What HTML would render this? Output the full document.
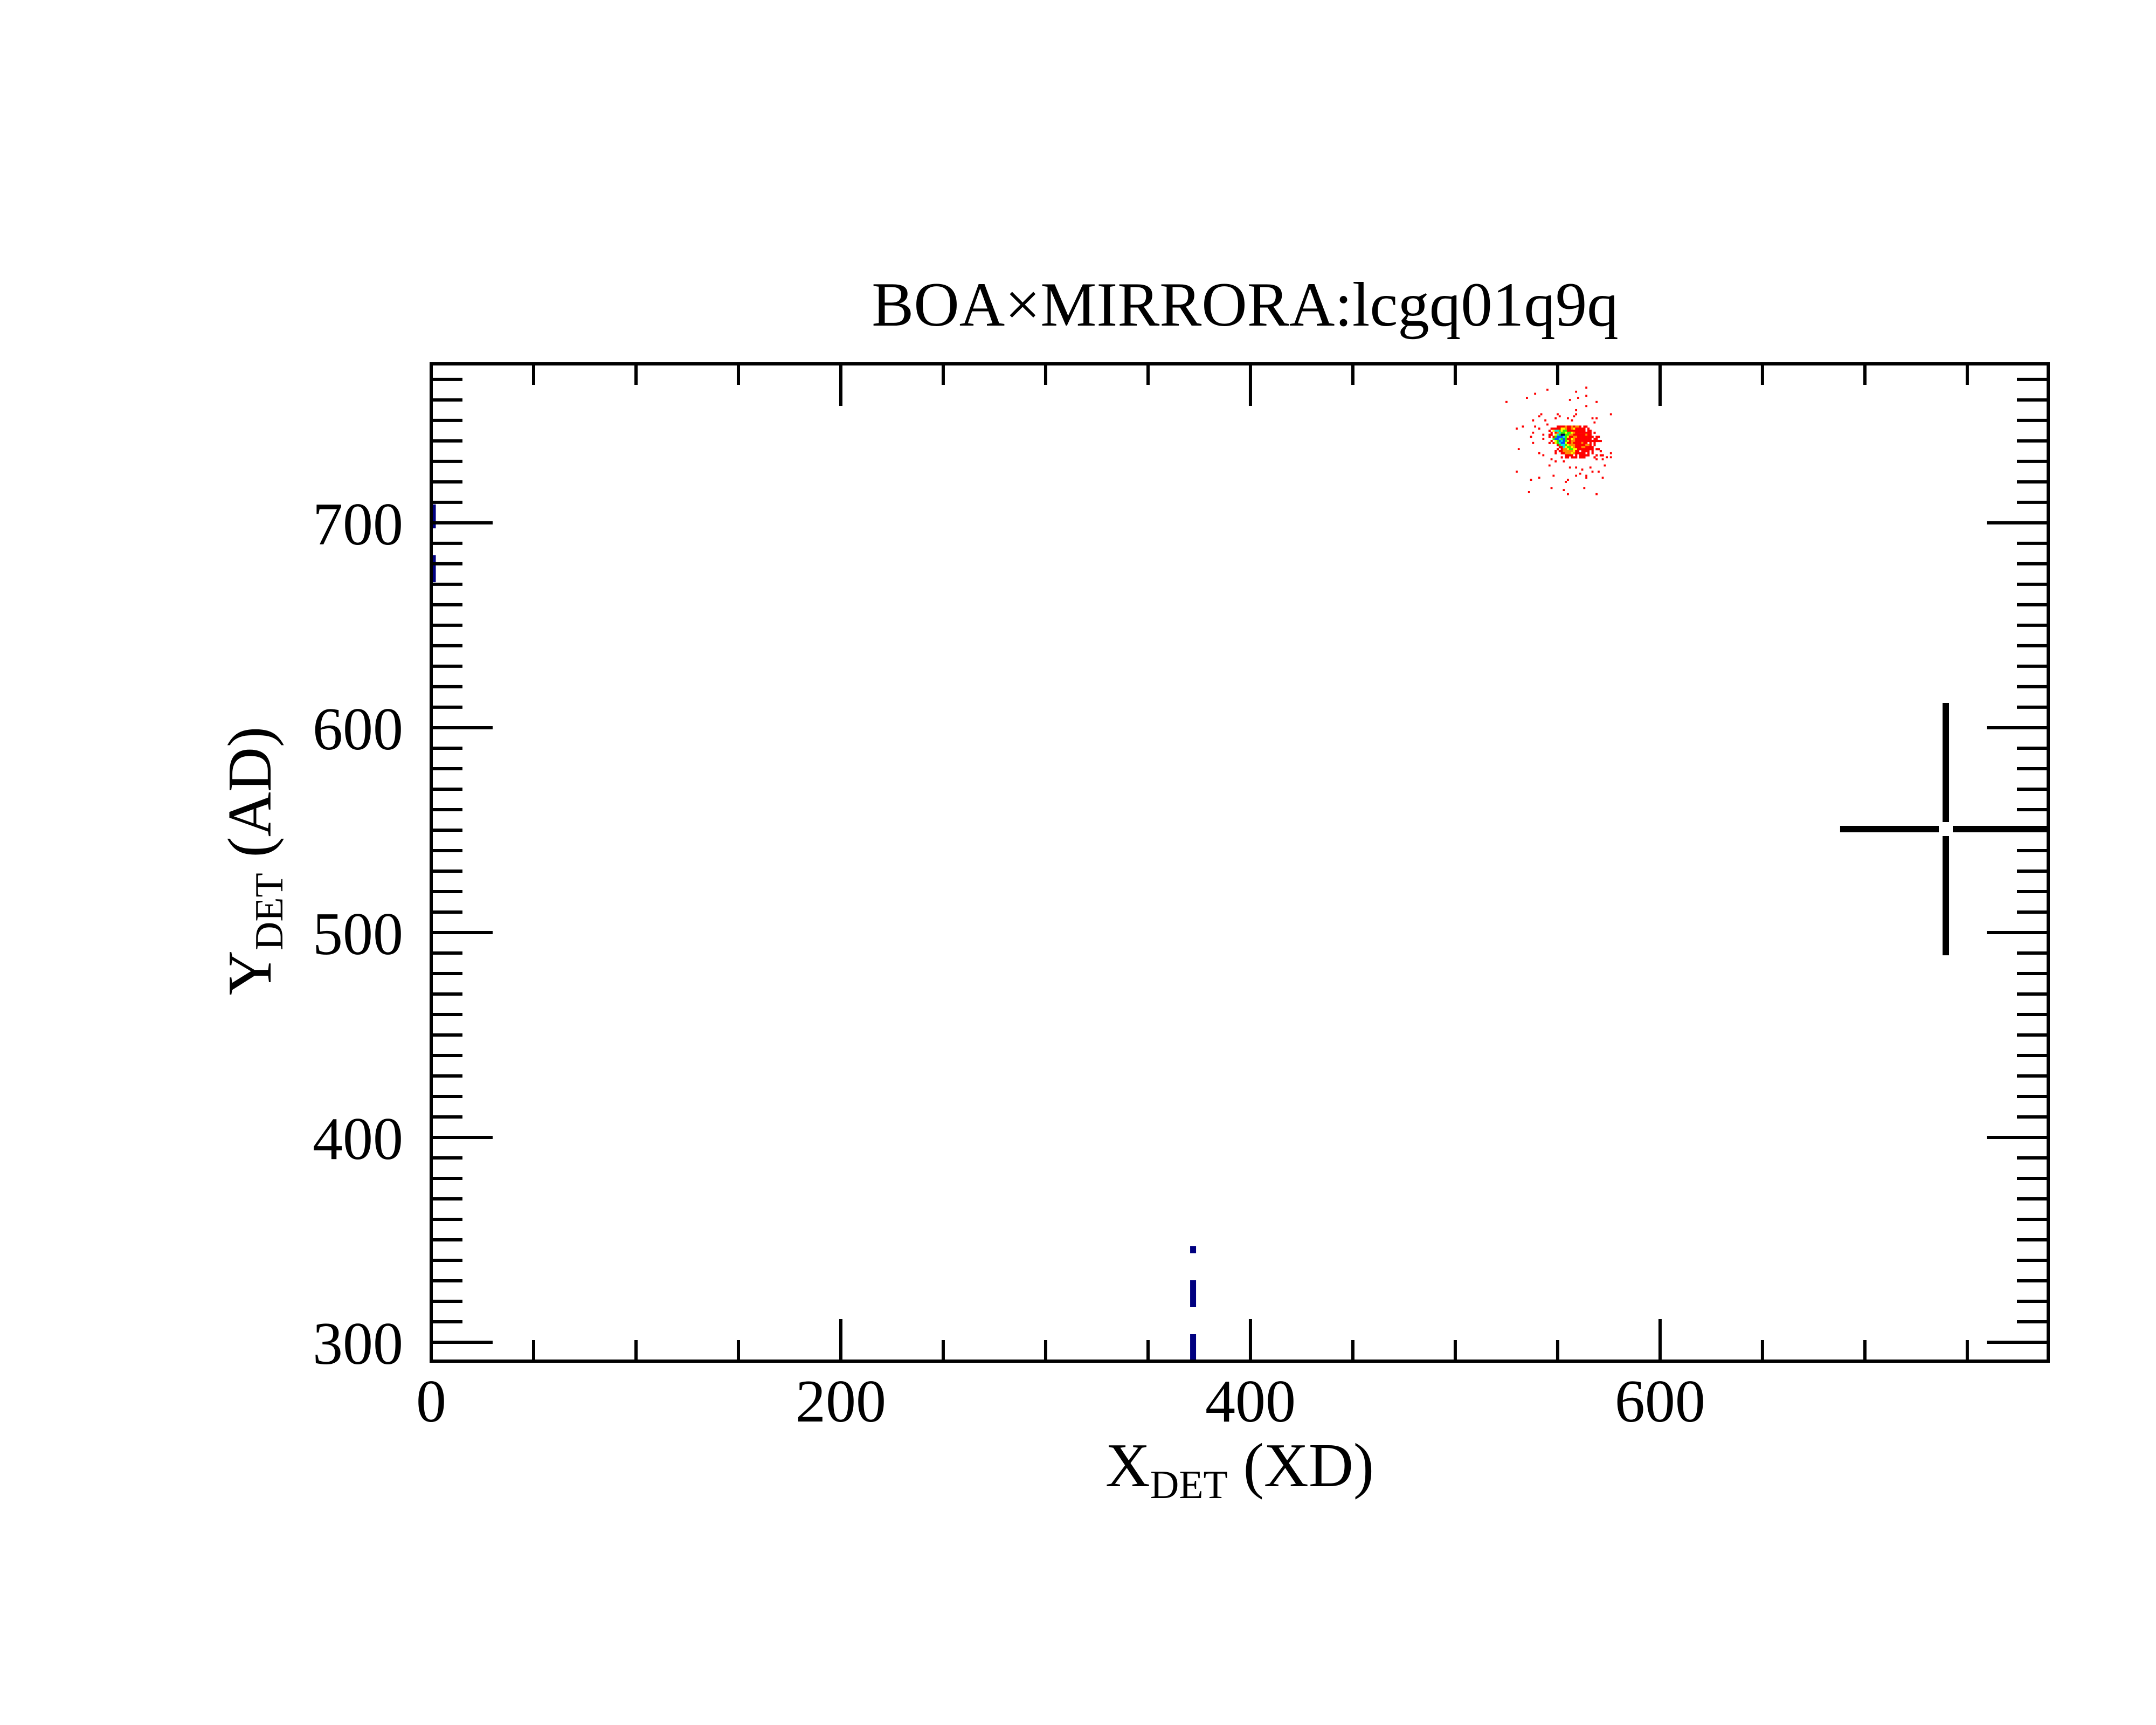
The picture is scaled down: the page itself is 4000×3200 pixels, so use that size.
<!DOCTYPE html>
<html>
<head>
<meta charset="utf-8">
<style>
html,body{margin:0;padding:0;background:#fff;}
svg{display:block;}
text{font-family:"Liberation Serif","DejaVu Serif",serif;fill:#000;}
</style>
</head>
<body>
<svg id="chart" xmlns="http://www.w3.org/2000/svg" width="4000" height="3200" viewBox="0 0 4000 3200">
  <rect x="0" y="0" width="4000" height="3200" fill="#fff"/>
  <defs><clipPath id="plotclip"><rect x="800" y="675" width="3000" height="1850"/></clipPath></defs>
  <g id="marks" clip-path="url(#plotclip)"></g>
  <g id="axes"></g>
  <text x="2310" y="604" font-size="117" text-anchor="middle">BOA×MIRRORA:lcgq01q9q</text>
  <text x="2300" y="2757" font-size="115" text-anchor="middle">X<tspan font-size="74" dy="22">DET</tspan><tspan dy="-22"> (XD)</tspan></text>
  <text transform="translate(502,1597) rotate(-90)" font-size="115" text-anchor="middle">Y<tspan font-size="74" dy="22">DET</tspan><tspan dy="-22"> (AD)</tspan></text>
</svg>
<script>
// ---- data ----
const xDomain = [0, 789.5];
const yDomain = [290.8, 777.6];
const xMajorTicks = [0, 200, 400, 600];
const xTickLabels = ["0", "200", "400", "600"];
const yMajorTicks = [300, 400, 500, 600, 700];
const yTickLabels = ["300", "400", "500", "600", "700"];
const xMinorStep = 50;
const yMinorStep = 10;
// cross marker (source position): center and half-sizes in data units
const crossCenter = [739.5, 550.5];
const crossHalf = [51.6, 61.6];
// dashed navy lines: [x, yStart, yEnd]
const dashLineA = [372, 290.8, 347];
const dashLineB = [0.8, 671, 709];
// image cluster: center in data units
const clusterCenter = [551, 740];
// core rows: dy from 7 down to -8, dx starting at -8
const coreTopDy = 7;
const coreStartDx = -8;
const coreRows = [
  ".......rrrrorroroor.rr...........",
  "....rrrrryyorroyrrrrr.r..........",
  "...r.yccgyggrrrrrrrrr.rr.........",
  "....r.rocggyggyorrrrrrrr.r.......",
  "...rr.ycgkkggoorrrrrrorr.........",
  "...r.rgbbbcgyrroorrrrrrrr.rr.....",
  ".....gbbcgbgrryorrrrrrrr.rr......",
  "....r.ygbcbgyroorrrrrrrrrrrrr....",
  "...r.rygcbbyrrorrrrorr.r.r.......",
  ".......rgccgyooorrrrroor.r.......",
  "........rrcyggyorrroorrrr........",
  ".......r.rooyggyyrrrrrrrr.rr.....",
  "......r.rroooooyrr.rrrr.r...r....",
  "......r..rroooyorrrrr.r.r........",
  "...........rrrr.r.rrrrr...r.rr...",
  ".........r.rr.rrr.rrr....r......."
];
// sparse outlier events (dx, dy) in data units
const outDx = [13,-6,-12,8,-16,5,9,13,-26,18,13,8,-9,-1,8,25,-10,0,4,7,-13,-7,-2,6,16,18,-18,-12,-6,17,-21,-10,-13,-8,-14,-8,-13,-20,-10,-8,-4,-2,2,25,23,25,22,21,18,-5,5,8,15,11,-21,10,13,16,19,-3,8,-10,13,21,-14,4,3,-4,12,2,-15,4,18];
const outDy = [26,25,23,24,21,20,21,22,19,19,17,15,13,13,13,13,12,12,11,12,10,10,11,10,11,11,7,7,8,9,6,6,4,3,2,1,-1,-4,-6,-7,-9,-10,-10,-6,-8,-8,-12,-9,-9,-12,-13,-13,-13,-14,-15,-16,-17,-15,-15,-17,-17,-18,-18,-18,-19,-19,-20,-23,-23,-24,-25,-26,-26];
const palette = {r:"#ff0000", o:"#ff8c00", y:"#ffff00", g:"#33ee00", c:"#00e8e8", b:"#0050ff", k:"#000050", p:"#501090"};

// ---- axes functions ----
const PX0 = 800, PX1 = 3800, PY0 = 2525, PY1 = 675;
function X(v){ return PX0 + (v - xDomain[0]) / (xDomain[1] - xDomain[0]) * (PX1 - PX0); }
function Y(v){ return PY0 - (v - yDomain[0]) / (yDomain[1] - yDomain[0]) * (PY0 - PY1); }
const NS = "http://www.w3.org/2000/svg";
function mk(tag, attrs, parent){ const e = document.createElementNS(NS, tag); for (const k in attrs) e.setAttribute(k, attrs[k]); parent.appendChild(e); return e; }

const axes = document.getElementById('axes');
const marks = document.getElementById('marks');

// cluster cells
const cw = X(1) - X(0), ch = Y(0) - Y(1);
coreRows.forEach((row, i) => {
  const dy = coreTopDy - i;
  for (let j = 0; j < row.length; j++) {
    const c = row[j];
    if (c === '.') continue;
    const dx = coreStartDx + j;
    const r = mk('rect', {x: X(clusterCenter[0] + dx - 0.5), y: Y(clusterCenter[1] + dy + 0.5), width: cw + 0.3, height: ch + 0.3, fill: palette[c]}, marks);
    
    
  }
});
outDx.forEach((dx, i) => {
  const r = mk('rect', {x: X(clusterCenter[0] + dx - 0.5), y: Y(clusterCenter[1] + outDy[i] + 0.5), width: cw, height: ch, fill: palette.r}, marks);
  
  
});

// dashed navy lines
[dashLineA, dashLineB].forEach((d, i) => {
  const l = mk('line', {x1: X(d[0]), x2: X(d[0]), y1: Y(d[1]), y2: Y(d[2]), stroke: "#000080", "stroke-width": 11, "stroke-dasharray": "50 50"}, marks);
  
  
});

// cross marker
const cx = X(crossCenter[0]), cy = Y(crossCenter[1]), gap = 13;
const crossSegs = [
  [X(crossCenter[0] - crossHalf[0]), cy, cx - gap, cy],
  [cx + gap, cy, X(crossCenter[0] + crossHalf[0]), cy],
  [cx, Y(crossCenter[1] + crossHalf[1]), cx, cy - gap],
  [cx, cy + gap, cx, Y(crossCenter[1] - crossHalf[1])]
];
crossSegs.forEach(s => {
  const l = mk('line', {x1: s[0], y1: s[1], x2: s[2], y2: s[3], stroke: "#000", "stroke-width": 12}, marks);
  
  
});

// frame
const frame = mk('rect', {x: PX0, y: PY1, width: PX1 - PX0, height: PY0 - PY1, fill: "none", stroke: "#000", "stroke-width": 6}, axes);



// x ticks
for (let v = Math.ceil(xDomain[0] / xMinorStep) * xMinorStep; v <= xDomain[1]; v += xMinorStep) {
  const major = xMajorTicks.indexOf(v) >= 0;
  const len = major ? 78 : 39;
  const t1 = mk('line', {x1: X(v), x2: X(v), y1: PY0, y2: PY0 - len, stroke: "#000", "stroke-width": 6}, axes);
  
  
  const t2 = mk('line', {x1: X(v), x2: X(v), y1: PY1, y2: PY1 + len, stroke: "#000", "stroke-width": 6}, axes);
  
  
}
xMajorTicks.forEach((v, i) => {
  const t = mk('text', {x: X(v), y: 2637, "font-size": 112, "text-anchor": "middle"}, axes);
  t.textContent = xTickLabels[i];
  
  
});

// y ticks
for (let v = Math.ceil(yDomain[0] / yMinorStep) * yMinorStep; v <= yDomain[1]; v += yMinorStep) {
  const major = yMajorTicks.indexOf(v) >= 0;
  const len = major ? 114 : 58;
  const t1 = mk('line', {x1: PX0, x2: PX0 + len, y1: Y(v), y2: Y(v), stroke: "#000", "stroke-width": 6}, axes);
  
  
  const t2 = mk('line', {x1: PX1, x2: PX1 - len, y1: Y(v), y2: Y(v), stroke: "#000", "stroke-width": 6}, axes);
  
  
}
yMajorTicks.forEach((v, i) => {
  const t = mk('text', {x: 748, y: Y(v) + 40, "font-size": 112, "text-anchor": "end"}, axes);
  t.textContent = yTickLabels[i];
  
  
});
</script>
</body>
</html>
